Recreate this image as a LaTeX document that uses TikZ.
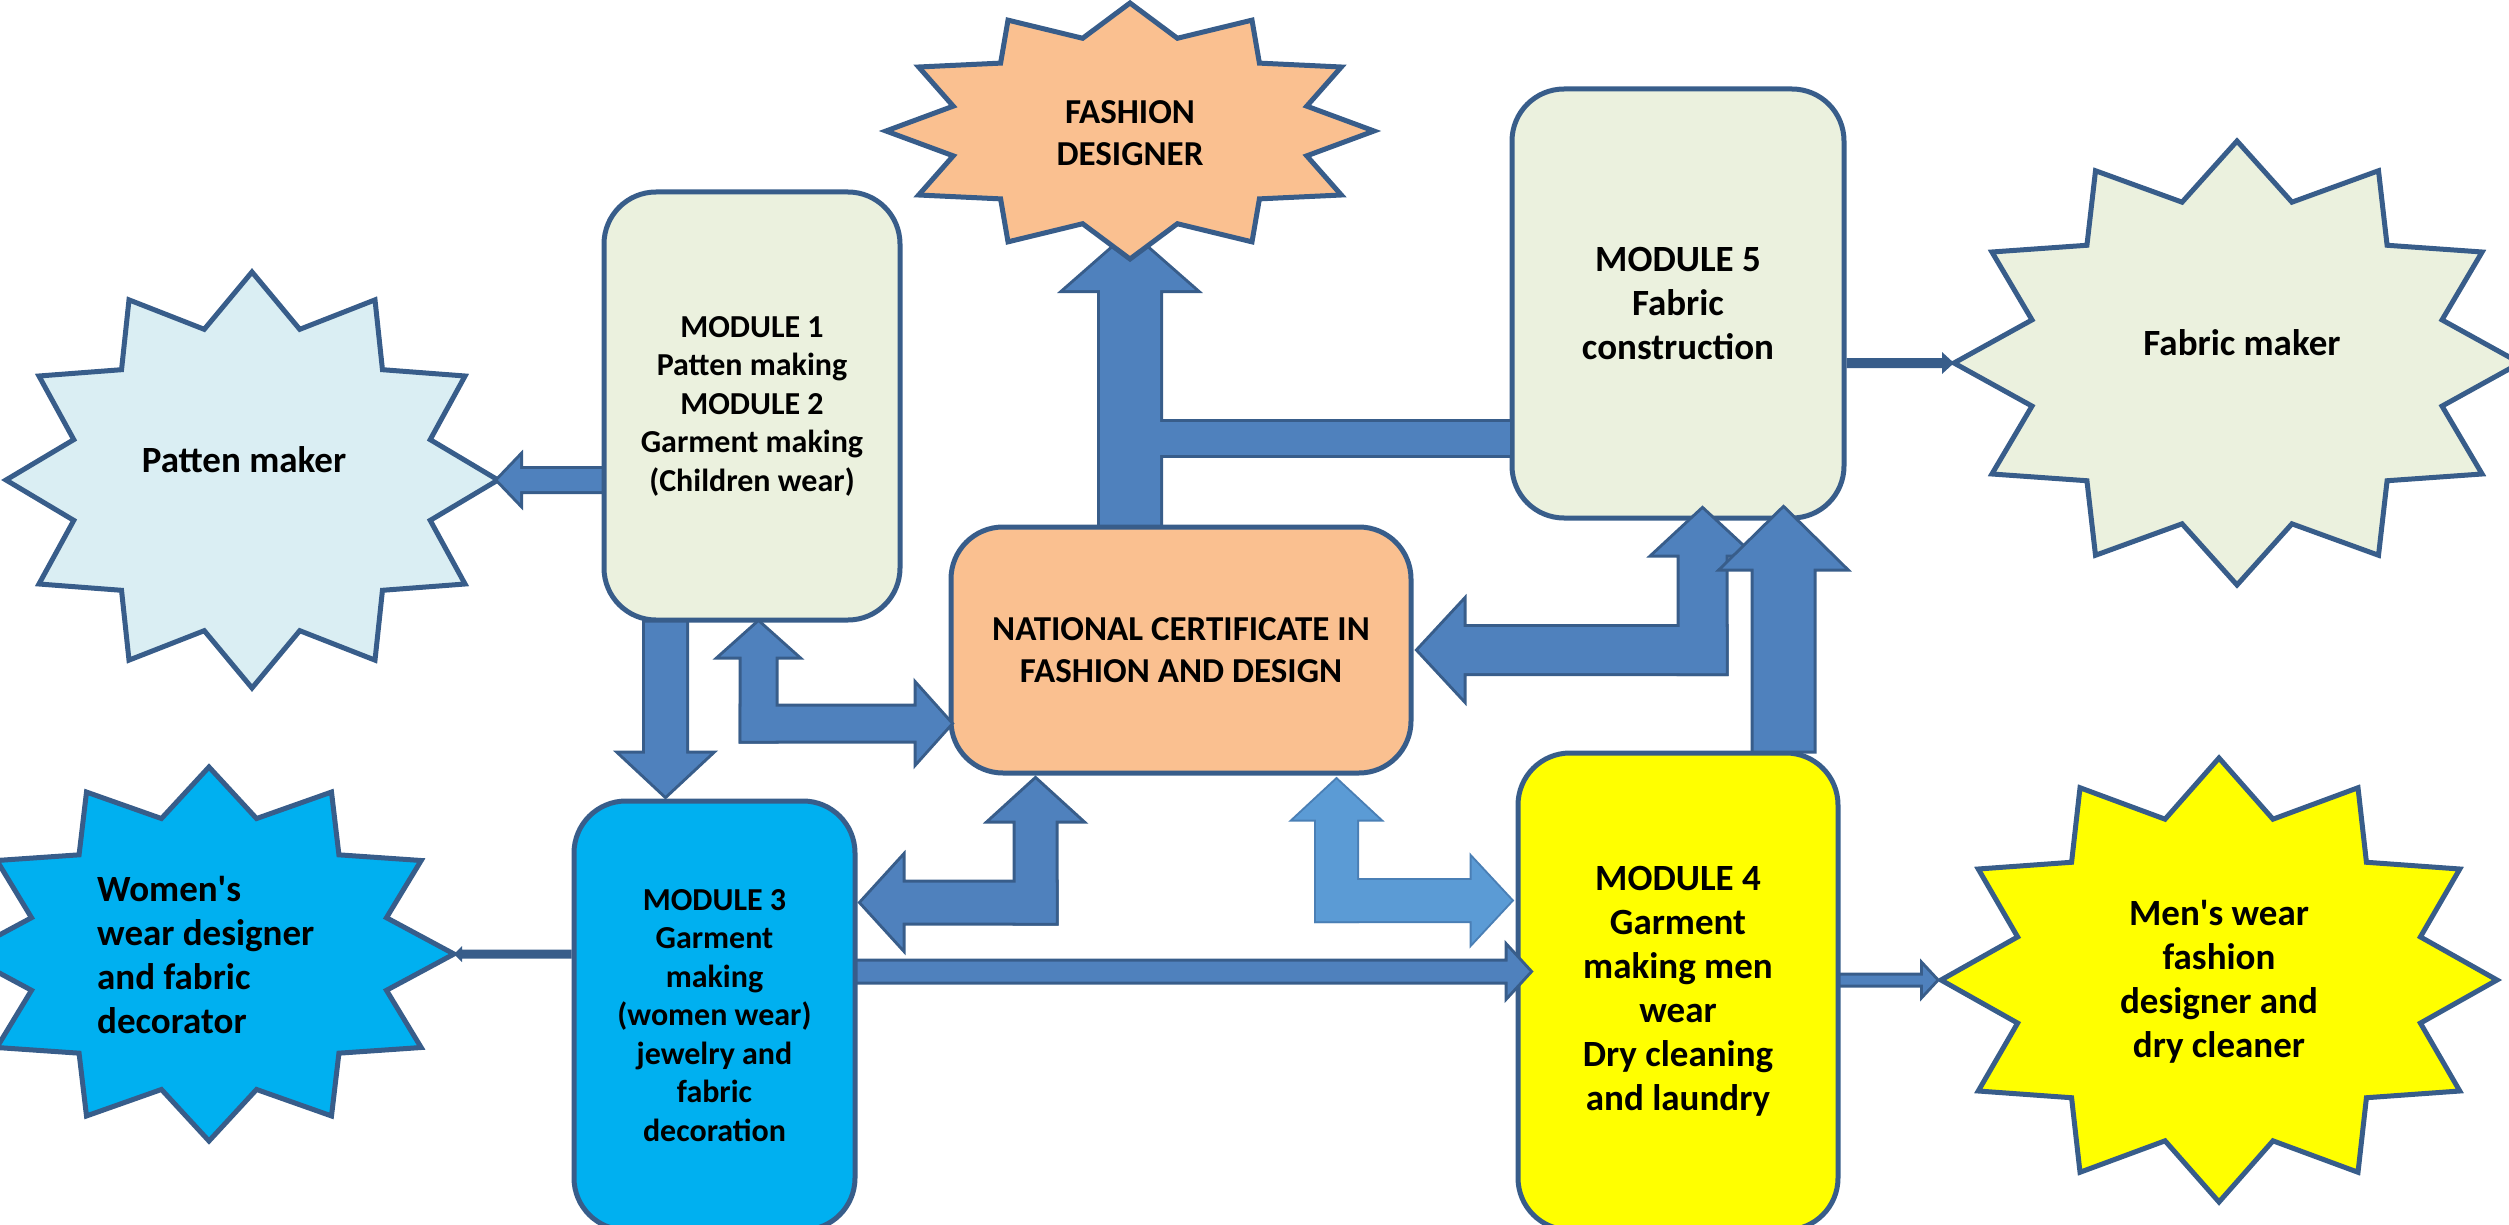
\documentclass[tikz,border=0pt]{standalone}
\usepackage{fontspec}
\setmainfont{Carlito}
\usetikzlibrary{calc}

\definecolor{edge}{HTML}{385D8A}
\definecolor{arrowfill}{HTML}{4F81BD}
\definecolor{lightarrow}{HTML}{5B9BD5}
\definecolor{lightedge}{HTML}{4A7FB5}
\definecolor{olive}{HTML}{EBF1DE}
\definecolor{paleblue}{HTML}{DAEEF3}
\definecolor{peach}{HTML}{FAC090}
\definecolor{cyanbox}{HTML}{00B0F0}
\definecolor{yellowbox}{HTML}{FFFF00}

\newcommand\txtA{\bfseries\fontsize{32}{38.5}\selectfont}
\newcommand\txtB{\bfseries\fontsize{35}{41.5}\selectfont}
\newcommand\txtC{\bfseries\fontsize{37}{44}\selectfont}
% straight typewriter apostrophe, bypassing the TeX quote mapping
\newcommand\sq{\XeTeXglyph\XeTeXcharglyph"0027\relax}

\tikzset{
  module/.style={draw=edge, line width=5pt, rounded corners=52pt, inner sep=0pt, align=center},
  burstholder/.style={inner sep=0pt, outer sep=0pt},
  burstline/.style={draw=edge, line width=5pt, line join=miter},
  startext/.style={inner sep=0pt, align=center, font=\txtC},
  arrowedge/.style={draw=edge, line width=6pt, miter limit=20},
}

% one straight arm of a block arrow from #1 to the tip #2
% #3 shaft width, #4 head width, #5 head length, #6 path options
\newcommand\arm[6]{%
  \path let \p1=(#1), \p2=(#2) in \pgfextra{%
    \pgfmathsetmacro\armtmpl{veclen(\x2-\x1,\y2-\y1)}%
    \pgfmathsetmacro\armtmpa{atan2(\y2-\y1,\x2-\x1)}%
    \global\let\armlen\armtmpl
    \global\let\armang\armtmpa};
  \begin{scope}[shift={(#1)}, rotate=\armang]
    \path[#6] (0,{-#3/2}) -- ({\armlen-#5},{-#3/2}) -- ({\armlen-#5},{-#4/2})
      -- (\armlen,0) -- ({\armlen-#5},{#4/2}) -- ({\armlen-#5},{#3/2})
      -- (0,{#3/2}) -- cycle;
  \end{scope}}

% outlined block arrow
\newcommand\blockarrow[6][arrowfill]{%
  \arm{#2}{#3}{#4}{#5}{#6}{arrowedge}%
  \arm{#2}{#3}{#4}{#5}{#6}{fill=#1}}

% slim solid arrow
\newcommand\thinarrow[5]{\arm{#1}{#2}{#3}{#4}{#5}{fill=edge}}

% bent arrow with a head at both ends: [fill]{outline}{corner}{tip A}{tip B}{shaft}{head}{head length}
\newcommand\bentarrow[8][arrowfill]{%
  \pgfmathsetmacro\bendext{#6/2}%
  \arm{$(#3)!-\bendext pt!(#4)$}{#4}{#6}{#7}{#8}{#2}%
  \arm{$(#3)!-\bendext pt!(#5)$}{#5}{#6}{#7}{#8}{#2}%
  \arm{$(#3)!-\bendext pt!(#4)$}{#4}{#6}{#7}{#8}{fill=#1}%
  \arm{$(#3)!-\bendext pt!(#5)$}{#5}{#6}{#7}{#8}{fill=#1}}

% twelve-pointed burst around a holder node
\newcommand\starburst[4]{%
  \begin{scope}[shift={(#1.center)}]
    \path[burstline, fill=#4] (0:#2 and #3)
      \foreach \k in {1,...,23}{ -- ({15*\k}:{(1-0.25*mod(\k,2))*#2} and {(1-0.25*mod(\k,2))*#3}) } -- cycle;
  \end{scope}}

\begin{document}
\begin{tikzpicture}[x=1pt, y=-1pt]
\useasboundingbox (0,0) rectangle (2509,1225);
\clip (0,0) rectangle (2509,1225);

% module boxes
\node[module, fill=olive, minimum width=296pt, minimum height=428pt, font=\txtA] (m1) at (752,406)
  {MODULE 1\\Patten making\\MODULE 2\\Garment making\\(Children wear)};
\node[module, fill=olive, minimum width=332pt, minimum height=429pt, font=\txtC] (m5) at (1678,303.5)
  {MODULE 5\\Fabric\\construction};
\node[module, fill=peach, minimum width=460pt, minimum height=246pt, font=\txtB] (nc) at (1181,650)
  {NATIONAL CERTIFICATE IN\\FASHION AND DESIGN};
\node[module, fill=cyanbox, minimum width=281pt, minimum height=429pt, font=\txtA] (m3) at (714.5,1015.5)
  {MODULE 3\\Garment\\making\\(women wear)\\jewelry and\\fabric\\decoration};
\node[module, fill=yellowbox, minimum width=320pt, minimum height=477pt, font=\txtC] (m4) at (1678,991.5)
  {MODULE 4\\Garment\\making men\\wear\\Dry cleaning\\and laundry};

% career bursts (extent only)
\node[burstholder, minimum width=492pt, minimum height=416pt] (pm) at (252,480) {};
\node[burstholder, minimum width=488pt, minimum height=256pt] (fd) at (1130,131) {};
\node[burstholder, minimum width=566pt, minimum height=444pt] (fm) at (2237,363) {};
\node[burstholder, minimum width=490pt, minimum height=374pt] (ww) at (209,954) {};
\node[burstholder, minimum width=556pt, minimum height=444pt] (mw) at (2219,980) {};

% certificate to fashion designer, joined by the bar from module 5
\coordinate (fdtail) at (fd.south |- nc.north);
\coordinate (fdtip) at ($(fd.south)+(0,-26)$);
\coordinate (barR) at ($(m5.south west)+(0,-82)$);
\coordinate (barL) at (fd.south |- barR);
\arm{fdtail}{fdtip}{60}{130}{57}{arrowedge}
\path[arrowedge] ($(barR)+(0,-16.5)$) rectangle ($(barL)+(0,16.5)$);
\arm{fdtail}{fdtip}{60}{130}{57}{fill=arrowfill}
\path[fill=arrowfill] ($(barR)+(0,-16.5)$) rectangle ($(barL)+(0,16.5)$);

% bursts
\starburst{pm}{246}{208}{paleblue}
\starburst{fd}{244}{128}{peach}
\starburst{fm}{283}{222}{olive}
\starburst{ww}{245}{187}{cyanbox}
\starburst{mw}{278}{222}{yellowbox}

\node[startext] (pmlabel) at (244,460) {Patten maker};
\node[startext, font=\txtB] (fdlabel) at (1130,133) {FASHION\\DESIGNER};
\node[startext] (fmlabel) at (2242,343) {Fabric maker};
\node[startext, align=left, anchor=west] (wwlabel) at (97,955) {Women\sq s\\wear designer\\and fabric\\decorator};
\node[startext] (mwlabel) at (2219,982) {Men\sq s wear\\fashion\\designer and\\dry cleaner};

% module 1 to patten maker
\blockarrow{m1.west |- pm.east}{pm.east}{22}{46}{22}

% module 1 down to module 3
\coordinate (m1m3) at ($(m1.south west)+(64,0)$);
\coordinate (m3in) at ($(m1m3 |- m3.north)+(0,-3)$);
\blockarrow{m1m3}{m3in}{41}{90}{42}

% module 1 and certificate
\coordinate (a1) at ($(m1.south west)+(157,0)$);
\coordinate (a2) at ($(nc.south west)+(2,-52)$);
\coordinate (a0) at (a1 |- a2);
\bentarrow{arrowedge}{a0}{a1}{a2}{34}{76}{34}

% certificate and module 3
\coordinate (c1) at ($(nc.south west)+(87,4)$);
\coordinate (c2) at ($(m3.north east)+(4,104)$);
\coordinate (c0) at (c1 |- c2);
\bentarrow{arrowedge}{c0}{c1}{c2}{40}{90}{41}

% certificate and module 4
\coordinate (d1) at ($(nc.south east)+(-77,4)$);
\coordinate (d2) at ($(m4.north west)+(-4,150)$);
\coordinate (d0) at (d1 |- d2);
\bentarrow[lightarrow]{draw=lightedge, line width=4pt, miter limit=20}{d0}{d1}{d2}{41}{86}{40}

% module 3 to module 4
\coordinate (e1) at ($(m3.north east)+(0,173)$);
\coordinate (e2) at ($(e1 -| m4.west)+(14,0)$);
\blockarrow{e1}{e2}{20}{48}{22}

% certificate and module 5
\coordinate (f1) at ($(nc.east)+(5,0)$);
\coordinate (f2) at ($(m5.south west)+(193,-11)$);
\coordinate (f0) at (f2 |- f1);
\bentarrow{arrowedge}{f0}{f1}{f2}{46}{97}{45}

% module 4 up to module 5
\coordinate (g1) at ($(m4.north west)+(268,0)$);
\coordinate (g2) at ($(g1 |- m5.south)+(0,-12)$);
\blockarrow{g1}{g2}{60}{122}{60}

% modules to their careers
\thinarrow{m3.west |- ww.east}{ww.east}{9}{16}{8}
\thinarrow{m5.east |- fm.west}{fm.west}{10}{22}{12}
\coordinate (mwin) at ($(mw.west)+(-5,0)$);
\blockarrow{m4.east |- mw.west}{mwin}{9}{28}{13}
\end{tikzpicture}
\end{document}
